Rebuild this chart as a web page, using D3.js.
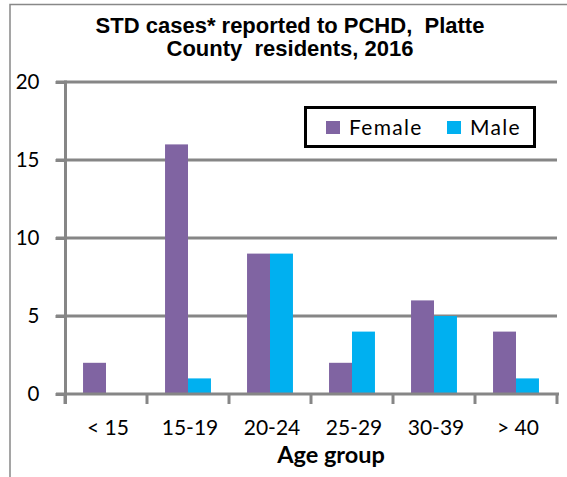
<!DOCTYPE html>
<html><head><meta charset="utf-8">
<script src="https://cdn.jsdelivr.net/npm/d3@7"></script>
<style>body{margin:0;background:#fff;}svg{display:block;}text{white-space:pre;}</style>
</head><body>
<svg id="c" width="567" height="477"></svg>
<script>
const categories = ["< 15", "15-19", "20-24", "25-29", "30-39", "> 40"];
const female = [2, 16, 9, 2, 6, 4];
const male = [0, 1, 9, 4, 5, 1];
const seriesNames = ["Female", "Male"];
const seriesColors = ["#8064A2", "#00B0F0"];
const yTicks = [0, 5, 10, 15, 20];
const titleLines = ["STD cases* reported to PCHD,  Platte", "County  residents, 2016"];
const xTitle = "Age group";

const svg = d3.select("#c");
const font = "Lato, 'Open Sans', sans-serif";
// outer frame
svg.append("path").attr("d","M10,477V4.5H567").attr("fill","none").attr("stroke","#888").attr("stroke-width",1.5);

const x0 = d3.scaleBand().domain(categories).range([65, 557]);
const x1 = d3.scaleBand().domain(seriesNames).range([x0.bandwidth()*0.22, x0.bandwidth()*0.78]);
const y = d3.scaleLinear().domain([0, 20]).range([394, 82]);

// gridlines
svg.append("g").selectAll("line").data(yTicks.filter(d=>d>0)).join("line")
  .attr("x1", 56).attr("x2", 557).attr("y1", d=>y(d)).attr("y2", d=>y(d))
  .attr("stroke", "#868686").attr("stroke-width", 3);

// bars
const data = categories.map((c,i)=>({c, vals:[female[i], male[i]]}));
const g = svg.append("g");
data.forEach(d=>{
  d.vals.forEach((v,j)=>{
    if (v<=0) return;
    g.append("rect").attr("x", x0(d.c)+x1(seriesNames[j])).attr("width", x1.bandwidth())
      .attr("y", y(v)).attr("height", y(0)-y(v)).attr("fill", seriesColors[j]);
  });
});

// y axis
const ya = svg.append("g").attr("transform","translate(65.5,0)")
  .call(d3.axisLeft(y).tickValues(yTicks).tickSize(10).tickPadding(16));
ya.select(".domain").attr("stroke","#868686").attr("stroke-width",3).attr("d","M0,"+(y(20)-1.5)+"V404");
ya.selectAll(".tick line").attr("stroke","#868686").attr("stroke-width",3);
ya.selectAll("text").attr("font-family",font).attr("font-size",20.5).attr("fill","#000");

// x axis
const xa = svg.append("g").attr("transform","translate(0,394)")
  .call(d3.axisBottom(x0).tickSize(0).tickPadding(26));
xa.select(".domain").attr("stroke","#868686").attr("stroke-width",3).attr("d","M56,0H559");
xa.selectAll("text").attr("font-family",font).attr("font-size",21).attr("fill","#000").attr("dx", 2);
const bounds = [65, ...categories.map(c=>x0(c)+x0.bandwidth())];
xa.append("g").selectAll("line").data(bounds).join("line")
  .attr("x1",d=>d).attr("x2",d=>d).attr("y1",0).attr("y2",10)
  .attr("stroke","#868686").attr("stroke-width",3);

// axis title
svg.append("text").attr("x", 331).attr("y", 463).attr("text-anchor","middle")
  .attr("font-family",font).attr("font-weight","bold").attr("font-size",23.5).text(xTitle);

// title
svg.append("g").selectAll("text").data(titleLines).join("text")
  .attr("x", 290).attr("y",(d,i)=>33+i*23).attr("text-anchor","middle")
  .attr("font-family","'Liberation Sans', Arial, sans-serif").attr("font-weight","bold")
  .attr("font-size",22).text(d=>d);

// legend
const lg = svg.append("g");
lg.append("rect").attr("x",305.5).attr("y",107.5).attr("width",229).attr("height",39)
  .attr("fill","#fff").attr("stroke","#000").attr("stroke-width",3);
const lx = [326, 447];
seriesNames.forEach((s,i)=>{
  lg.append("rect").attr("x",lx[i]).attr("y",121).attr("width",14).attr("height",13).attr("fill",seriesColors[i]);
  lg.append("text").attr("x",lx[i]+23).attr("y",135).attr("font-family",font).attr("font-size",21)
    .attr("letter-spacing",1.3).text(s);
});
</script>
</body></html>
